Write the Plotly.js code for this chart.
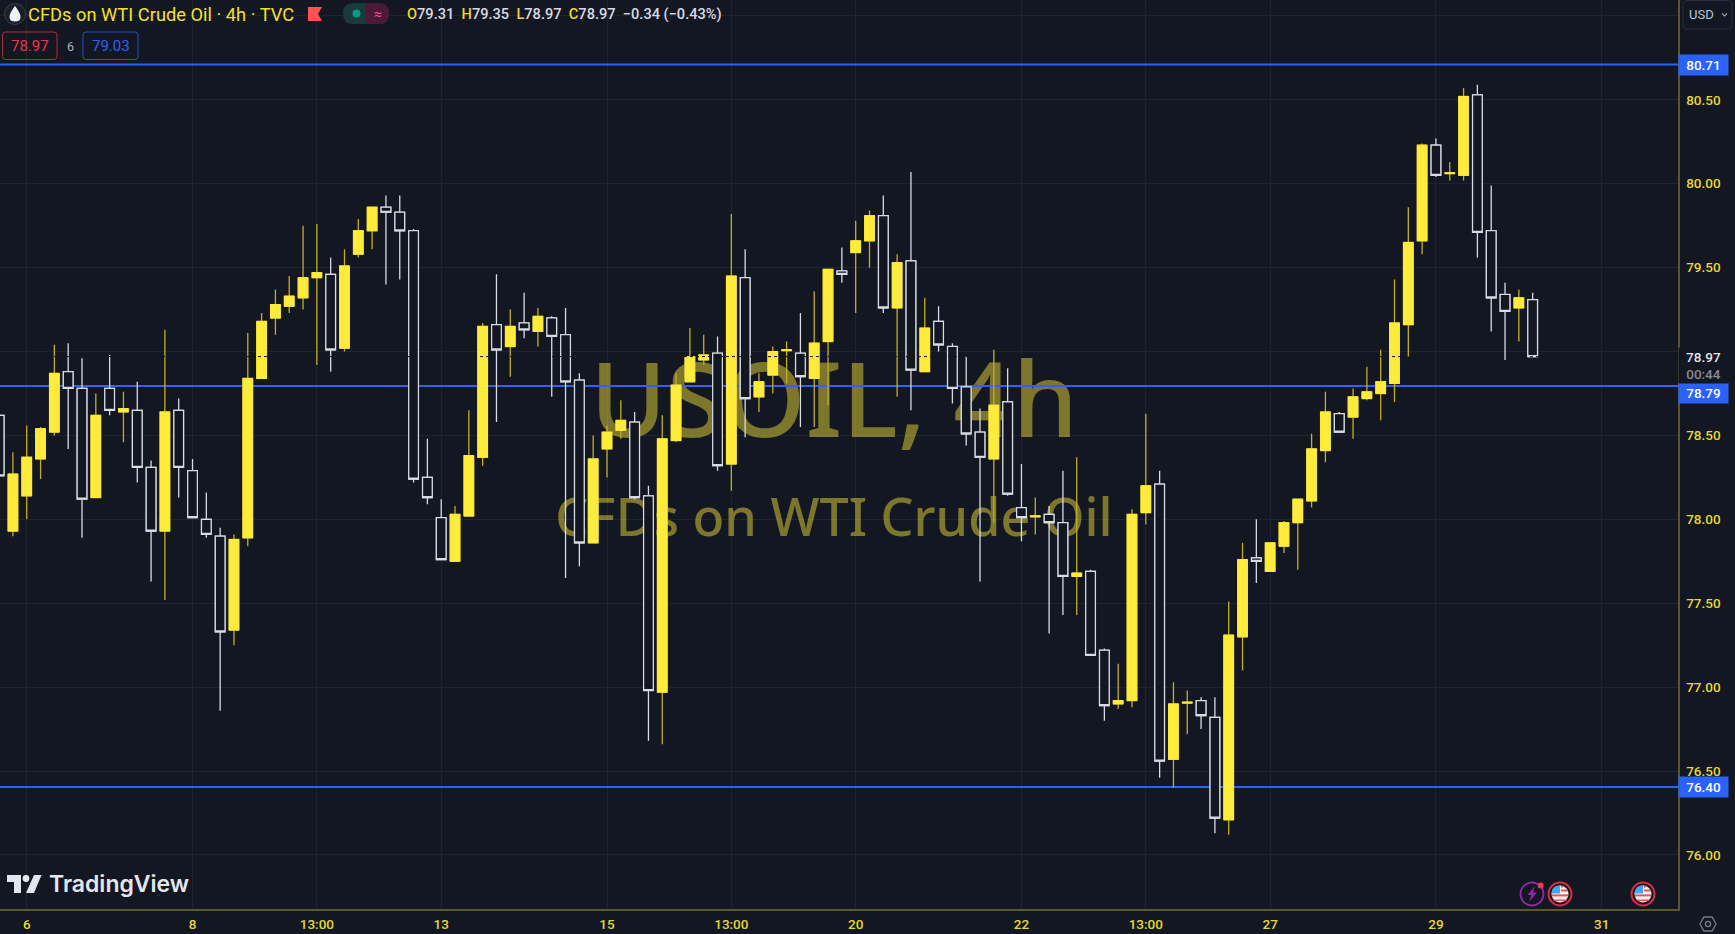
<!DOCTYPE html>
<html>
<head>
<meta charset="utf-8">
<script src="https://cdn.plot.ly/plotly-3.0.1.min.js"></script>
<style>html,body{margin:0;padding:0;background:#131722;overflow:hidden}#c{width:1735px;height:934px}</style>
</head>
<body>
<div id="c"></div>
<script>
const open_ = [78.62,77.93,78.14,78.36,78.52,78.88,78.78,78.13,78.78,78.64,78.65,78.31,77.93,78.65,78.29,78.00,77.90,77.34,77.89,78.84,79.20,79.27,79.32,79.44,79.46,79.02,79.58,79.72,79.86,79.83,79.72,78.25,78.01,77.75,78.02,78.37,79.16,79.03,79.17,79.12,79.20,79.10,78.83,77.86,78.42,78.53,78.58,78.14,76.97,78.47,78.82,78.95,78.99,78.33,79.44,78.73,78.86,79.005,78.99,78.84,79.06,79.48,79.59,79.66,79.81,79.26,79.54,78.88,79.18,79.03,78.79,78.52,78.36,78.70,78.07,78.015,78.03,77.98,77.66,77.69,77.22,76.90,76.92,78.04,78.21,76.57,76.905,76.92,76.82,76.21,77.30,77.77,77.69,77.84,77.98,78.11,78.41,78.63,78.61,78.72,78.75,78.81,79.16,79.66,80.23,80.06,80.05,80.53,79.72,79.34,79.26,79.31];
const high_ = [78.62,78.40,78.56,78.55,79.04,79.05,78.96,78.75,78.98,78.76,78.82,78.35,79.13,78.72,78.36,78.16,77.95,77.91,79.11,79.23,79.37,79.45,79.75,79.76,79.56,79.61,79.79,79.86,79.93,79.93,79.73,78.48,78.12,78.08,78.65,79.17,79.46,79.25,79.35,79.26,79.21,79.26,78.87,78.50,78.56,78.71,78.64,78.20,78.62,78.87,79.14,79.10,79.09,79.82,79.61,78.87,79.03,79.06,79.23,79.36,79.49,79.62,79.78,79.84,79.93,79.58,80.07,79.32,79.27,79.05,78.97,78.66,79.01,78.90,78.33,78.13,78.08,78.29,78.37,77.70,77.23,77.14,78.06,78.63,78.29,77.03,76.98,76.94,76.94,77.51,77.86,78.00,77.86,77.99,78.12,78.51,78.76,78.64,78.78,78.91,79.01,79.43,79.86,80.24,80.27,80.13,80.57,80.59,79.99,79.41,79.37,79.35];
const low_ = [78.26,77.90,78.00,78.24,78.50,78.42,77.89,78.13,78.62,78.46,78.22,77.63,77.52,78.13,78.01,77.89,76.86,77.25,77.84,78.84,79.10,79.23,79.25,78.92,78.88,79.00,79.56,79.61,79.40,79.43,78.22,78.09,77.76,77.75,78.02,78.32,78.58,78.85,79.08,79.03,78.73,77.65,77.72,77.86,78.25,78.48,78.12,76.68,76.66,78.46,78.82,78.92,78.29,78.17,78.49,78.64,78.75,78.81,78.55,78.55,78.68,79.41,79.23,79.50,79.23,78.73,78.65,78.88,79.00,78.69,78.44,77.63,77.98,78.14,77.87,77.91,77.32,77.43,77.43,77.19,76.80,76.87,76.88,77.97,76.46,76.40,76.72,76.75,76.13,76.12,77.10,77.62,77.69,77.80,77.70,78.07,78.34,78.52,78.48,78.71,78.59,78.70,78.97,79.58,80.04,80.02,80.02,79.56,79.12,78.95,79.06,78.97];
const close_ = [78.26,78.27,78.37,78.54,78.87,78.78,78.12,78.62,78.65,78.66,78.31,77.93,78.64,78.31,78.01,77.91,77.33,77.88,78.84,79.18,79.28,79.33,79.44,79.47,79.01,79.51,79.72,79.86,79.83,79.72,78.24,78.13,77.76,78.03,78.38,79.15,79.01,79.15,79.13,79.21,79.09,78.82,77.86,78.36,78.52,78.59,78.13,76.98,78.48,78.80,78.97,78.98,78.32,79.45,78.72,78.82,79.00,79.01,78.85,79.05,79.49,79.46,79.66,79.81,79.26,79.53,78.89,79.14,79.04,78.78,78.51,78.37,78.68,78.15,78.01,78.02,77.98,77.66,77.68,77.19,76.89,76.92,78.03,78.20,76.56,76.90,76.91,76.83,76.22,77.31,77.76,77.75,77.86,77.98,78.12,78.42,78.64,78.52,78.73,78.76,78.82,79.17,79.65,80.23,80.05,80.065,80.52,79.71,79.32,79.24,79.32,78.97];

const candleIndex = open_.map((_, i) => i);
const priceTicks = [76, 76.5, 77, 77.5, 78, 78.5, 79, 79.5, 80, 80.5, 81];
const priceLabels = ["76.00","76.50","77.00","77.50","78.00","78.50","","79.50","80.00","80.50",""];
const timeTicks = [2, 14, 23, 32, 44, 53, 62, 74, 83, 92, 104, 116];
const timeLabels = ["6","8","13:00","13","15","13:00","20","22","13:00","27","29","31"];
const levels = [80.71, 78.795, 76.405];
const lastPrice = 78.97;

const BG = "#131722", GRID = "#1f232e", AXIS = "#5b5630", YEL = "#ffeb3b", WICK = "#c4ae24", WHT = "#d8dbe3", BLUE = "#2962ff", TICK = "#e8d72e";
const PW = 1678, PH = 909;
const xRange = [0.065, 121.52], yRange = [75.678, 81.095];
const bodyHigh = open_.map((o, i) => Math.max(o, close_[i]));
const bodyLow = open_.map((o, i) => Math.min(o, close_[i]));

const X = x => x / PW, Y = y => 1 - y / PH;
const P = (d) => d.replace(/(-?[\d.]+),(-?[\d.]+)/g, (m, a, b) => X(+a) + "," + Y(+b));
const shp = (d, fill, line, w) => ({type:"path", xref:"paper", yref:"paper", path:P(d), fillcolor:fill||"rgba(0,0,0,0)", line:{color:line||"rgba(0,0,0,0)", width:w||0}, layer:"above"});
const circ = (cx, cy, r, fill, line, w) => ({type:"circle", xref:"paper", yref:"paper", x0:X(cx-r), x1:X(cx+r), y0:Y(cy+r), y1:Y(cy-r), fillcolor:fill||"rgba(0,0,0,0)", line:{color:line||"rgba(0,0,0,0)", width:w||0}, layer:"above"});
const rrect = (x0, y0, x1, y1, r, fill, line, w) => shp(`M${x0+r},${y0} L${x1-r},${y0} Q${x1},${y0} ${x1},${y0+r} L${x1},${y1-r} Q${x1},${y1} ${x1-r},${y1} L${x0+r},${y1} Q${x0},${y1} ${x0},${y1-r} L${x0},${y0+r} Q${x0},${y0} ${x0+r},${y0} Z`, fill, line, w);

const usFlag = (cx, cy) => [
  circ(cx, cy, 11.5, BG, "#d32f3f", 2),
  circ(cx, cy, 8.5, "#f4f4f6"),
  shp(`M${cx-8},${cy+2.4} L${cx+8},${cy+2.4} L${cx+8},${cy+0.4} L${cx-8},${cy+0.4} Z`, "#ef5350"),
  shp(`M${cx-6.5},${cy+5.6} L${cx+6.5},${cy+5.6} L${cx+6},${cy+7} L${cx-5.5},${cy+7} Z`, "#ef5350"),
  shp(`M${cx+1},${cy-2.6} L${cx+8},${cy-2.6} L${cx+7.4},${cy-4.4} L${cx+1},${cy-4.4} Z`, "#ef5350"),
  shp(`M${cx+1},${cy-6} L${cx+4.5},${cy-8} L${cx+1},${cy-8.4} Z`, "#ef5350"),
  shp(`M${cx-8.4},${cy-0.4} L${cx},${cy-0.4} L${cx},${cy-8.4} Q${cx-8.4},${cy-8.4} ${cx-8.4},${cy-0.4} Z`, "#42a5f5")
];

const shapes = [
  rrect(343, 3, 389, 24, 10, "#1b3a3c"),
  shp("M366,3 L379,3 Q389,3 389,13.5 Q389,24 379,24 L366,24 Z", "#4a1a36"),
  circ(356.5, 13.5, 4, "#089981"),
  shp("M308,7 L322,7 L318,14 L322,21 L308,21 Z", "#ff5252"),
  circ(15, 14, 10.5, "#1b1f2a", "#3a3e49", 1),
  shp("M15,6 Q20.5,13 20.5,17 Q20.5,21.5 15,21.5 Q9.5,21.5 9.5,17 Q9.5,13 15,6 Z", "#f0f3fa"),
  rrect(2.5, 32, 57, 59.5, 3, null, "#a8303c", 1),
  rrect(83, 32, 138, 59.5, 3, null, "#2450c4", 1),
  rrect(1683, 0.5, 1732, 29, 4, null, "#2a2e39", 1),
  shp("M1722,13.5 L1724.5,16 L1727,13.5", null, "#9598a1", 1.2),
  shp("M7,875 L21,875 L21,893 L14,893 L14,882 L7,882 Z", "#e3e6ee"),
  circ(26, 878.5, 3.4, "#e3e6ee"),
  shp("M34,875 L41.5,875 L34,893 L26,893 Z", "#e3e6ee"),
  circ(1532, 894, 11.5, null, "#8e2aa8", 1.8),
  shp("M1535,886 L1527.5,895 L1531.5,895 L1529,902 L1537,892.5 L1533,892.5 Z", "#8e2aa8"),
  circ(1540.7, 885.5, 3, "#f23645"),
  ...usFlag(1560, 894),
  ...usFlag(1643, 894),
  shp("M1700,924 L1704,917 L1712,917 L1716,924 L1712,931 L1704,931 Z", null, "#787b86", 1.3),
  circ(1708, 924, 2.6, null, "#787b86", 1.3)
];

const note = (x, y, text, size, color, opts) => Object.assign({xref:"paper", yref:"paper", x:X(x), y:Y(y), xanchor:"left", yanchor:"middle", text, showarrow:false, font:{family:"Roboto, sans-serif", size, color}, borderpad:0, borderwidth:0}, opts||{});
const lab = s => `<span style="color:#e8d72e">${s}</span>`;
const val = s => `<span style="color:#d8dae2">${s}</span>`;

const tag = (price, shift, text) => ({xref:"paper", yref:"y", x:1, y:price, yshift:shift, xanchor:"left", yanchor:"middle", text, showarrow:false, width:49, height:20, bgcolor:BLUE, borderpad:0, align:"center", font:{family:"Roboto, sans-serif", size:13.5, color:"#ffffff", weight:500}});

const annotations = [
  note(28, 14.5, "CFDs on WTI Crude Oil · 4h · TVC", 18.3, "#f5e02e", {font:{family:"Roboto, sans-serif", size:18.3, color:"#f5e02e", weight:400}}),
  note(407, 14.5, lab("O")+val("79.31")+" "+lab(" H")+val("79.35")+" "+lab(" L")+val("78.97")+" "+lab(" C")+val("78.97")+val("  −0.34 (−0.43%)"), 14.6, "#d8dae2", {font:{family:"Roboto, sans-serif", size:14.6, color:"#d8dae2", weight:500}}),
  note(377.5, 13.5, "≈", 14, "#f2508c", {xanchor:"center"}),
  note(29.7, 46, "78.97", 15, "#f23645", {xanchor:"center"}),
  note(70, 46, "6", 12.5, "#b2b5be", {xanchor:"center"}),
  note(110.5, 46, "79.03", 15, "#2962ff", {xanchor:"center"}),
  note(1701, 14.5, "USD", 13, "#b5c5dc", {xanchor:"center"}),
  note(49, 884, "TradingView", 23, "#e3e6ee", {font:{family:"Inter, sans-serif", size:23, color:"#e3e6ee", weight:600}}),
  tag(levels[0], 0, "80.71"),
  tag(levels[1], -7.5, "78.79"),
  tag(levels[2], 0, "76.40"),
  {xref:"paper", yref:"paper", x:1, y:Y(365.5), xanchor:"left", yanchor:"middle", width:49, height:35, bgcolor:BG, borderpad:0, align:"center", showarrow:false,
   text:'<span style="color:#e4e6ec">78.97</span><br><span style="color:#878b95">00:44</span>', font:{family:"Roboto, sans-serif", size:13.5, color:"#d8dae2", weight:500}}
];

const data = [
  {type:"scatter", mode:"text", x:[60.43], y:[78.645], text:["USOIL, 4h"], textposition:"middle center", textfont:{family:"Noto Sans, sans-serif", size:104, weight:500, color:"rgba(255,235,59,0.45)"}, hoverinfo:"skip", xaxis:"x", yaxis:"y", showlegend:false},
  {type:"scatter", mode:"text", x:[60.43], y:[77.977], text:["CFDs on WTI Crude Oil"], textposition:"middle center", textfont:{family:"Noto Sans, sans-serif", size:52, weight:500, color:"rgba(255,235,59,0.45)"}, hoverinfo:"skip", xaxis:"x", yaxis:"y", showlegend:false},
  ...levels.map(v => ({type:"scatter", mode:"lines", x:xRange, y:[v, v], line:{color:BLUE, width:2}, hoverinfo:"skip", xaxis:"x", yaxis:"y", showlegend:false})),
  {type:"candlestick", x:candleIndex, open:open_, high:high_, low:low_, close:close_, xaxis:"x2", yaxis:"y2", showlegend:false, hoverinfo:"skip", whiskerwidth:0,
   increasing:{line:{color:WICK, width:1.3}, fillcolor:YEL}, decreasing:{line:{color:WHT, width:1.3}, fillcolor:BG}},
  {type:"candlestick", x:candleIndex, open:open_, high:bodyHigh, low:bodyLow, close:close_, xaxis:"x2", yaxis:"y2", showlegend:false, hoverinfo:"skip", whiskerwidth:0,
   increasing:{line:{color:YEL, width:1}, fillcolor:YEL}, decreasing:{line:{color:WHT, width:1.2}, fillcolor:BG}},
  {type:"scatter", mode:"lines", x:xRange, y:[lastPrice, lastPrice], line:{color:BG, width:1, dash:"dot"}, hoverinfo:"skip", xaxis:"x2", yaxis:"y2", showlegend:false}
];

const layout = {
  width:1735, height:934, autosize:false,
  margin:{l:0, r:57, t:0, b:25, pad:0},
  paper_bgcolor:BG, plot_bgcolor:BG, showlegend:false,
  boxmode:"overlay", boxgap:0.3, boxgroupgap:0,
  xaxis:{type:"linear", range:xRange, tickmode:"array", tickvals:timeTicks, ticktext:timeLabels, showgrid:true, gridcolor:GRID, gridwidth:1, zeroline:false,
    showline:true, linecolor:AXIS, linewidth:1.5, ticks:"outside", ticklen:2.5, tickcolor:"rgba(0,0,0,0)", tickfont:{family:"Roboto, sans-serif", size:13.5, color:TICK, weight:500}, fixedrange:true},
  yaxis:{type:"linear", range:yRange, side:"right", tickmode:"array", tickvals:priceTicks, ticktext:priceLabels, showgrid:true, gridcolor:GRID, gridwidth:1, zeroline:false,
    showline:true, linecolor:AXIS, linewidth:1.5, ticks:"outside", ticklen:4, tickcolor:"rgba(0,0,0,0)", tickfont:{family:"Roboto, sans-serif", size:13.5, color:TICK, weight:500}, fixedrange:true},
  xaxis2:{type:"linear", range:xRange, overlaying:"x", visible:false, rangeslider:{visible:false}, fixedrange:true},
  yaxis2:{type:"linear", range:yRange, overlaying:"y", side:"right", visible:false, fixedrange:true},
  shapes, annotations
};

Plotly.newPlot("c", data, layout, {displayModeBar:false, staticPlot:true, responsive:false});
</script>
</body>
</html>
